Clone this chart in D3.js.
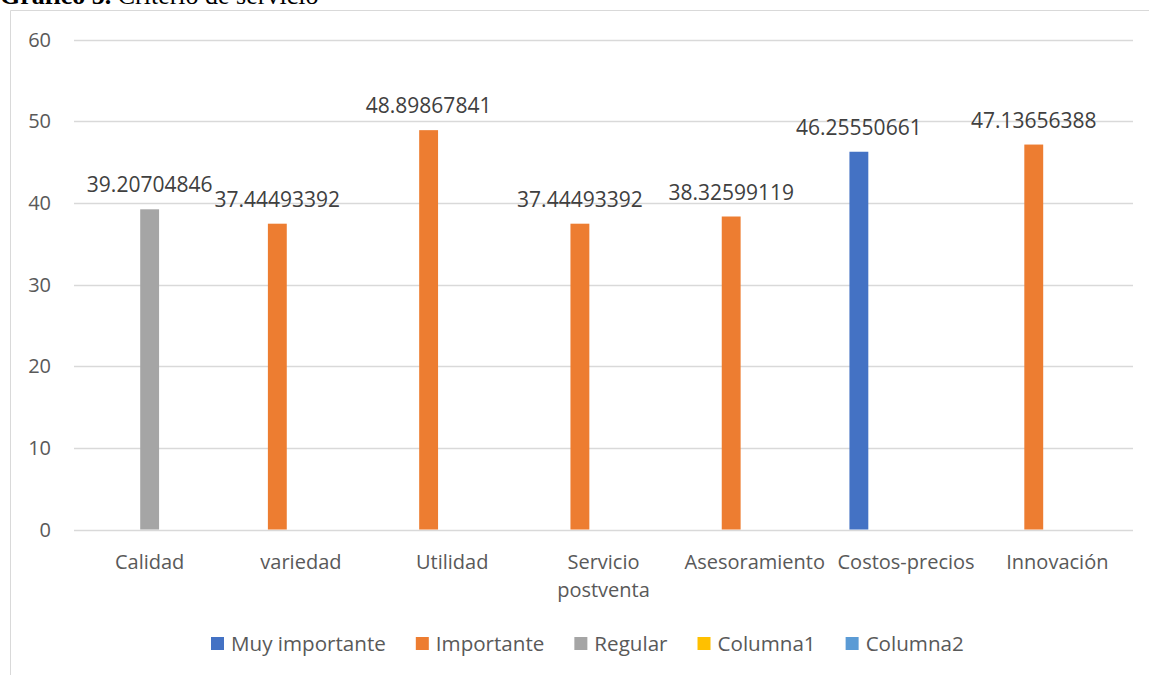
<!DOCTYPE html>
<html>
<head>
<meta charset="utf-8">
<script src="https://cdn.jsdelivr.net/npm/d3@7"></script>
<style>
  body { margin: 0; background: #fff; }
  svg { display: block; }
  .tick_label { font-family: "Open Sans", "Noto Sans", sans-serif; font-size: 20px; fill: #595959; }
  .data_label { font-family: "Open Sans", "Noto Sans", sans-serif; font-size: 21px; fill: #404040; }
  .legend_str { font-family: "Open Sans", "Noto Sans", sans-serif; font-size: 20.6px; fill: #595959; }
</style>
</head>
<body>
<svg id="chart" width="1149" height="675"></svg>
<script>
// chart data
var categories = ["Calidad", "variedad", "Utilidad", "Servicio postventa", "Asesoramiento", "Costos-precios", "Innovación"];
var seriesNames = ["Muy importante", "Importante", "Regular", "Columna1", "Columna2"];
var muyImportante = [null, null, null, null, null, 46.25550661, null];
var importante = [null, 37.44493392, 48.89867841, 37.44493392, 38.32599119, null, 47.13656388];
var regular = [39.20704846, null, null, null, null, null, null];
var columna1 = [null, null, null, null, null, null, null];
var columna2 = [null, null, null, null, null, null, null];
var yTicks = [0, 10, 20, 30, 40, 50, 60];

var seriesValues = [muyImportante, importante, regular, columna1, columna2];
var colors = ["#4472C4", "#ED7D31", "#A5A5A5", "#FFC000", "#5B9BD5"];

var svg = d3.select("#chart");

// title (cut at the top like the page scan)
var title = svg.append("text")
  .attr("x", 0)
  .attr("y", 4)
  .attr("font-family", "'Liberation Serif', 'Times New Roman', serif")
  .attr("font-size", "26px")
  .attr("fill", "#000");
title.append("tspan").attr("font-weight", "bold").text("Gráfico 5.");
title.append("tspan").text(" Criterio de servicio");

// chart frame
svg.append("path")
  .attr("d", "M10.5,675 L10.5,10.5 L1149,10.5")
  .attr("fill", "none")
  .attr("stroke", "#d9d9d9")
  .attr("stroke-width", 1);

var plotLeft = 74, plotRight = 1133, plotTop = 39.5, plotBottom = 529.5;

var x = d3.scaleBand().domain(categories).range([plotLeft, plotRight]).padding(0);
var slot = 23.6;
var x1 = d3.scaleBand().domain(seriesNames)
  .range([x.bandwidth() / 2 - 2.5 * slot, x.bandwidth() / 2 + 2.5 * slot])
  .paddingInner(0.2).paddingOuter(0.1);
var y = d3.scaleLinear().domain([0, 60]).range([plotBottom, plotTop]);

// gridlines
svg.append("g").selectAll("line").data(yTicks).enter().append("line")
  .attr("x1", plotLeft)
  .attr("x2", plotRight)
  .attr("y1", function(d) { return Math.round(y(d)) + 0.5; })
  .attr("y2", function(d) { return Math.round(y(d)) + 0.5; })
  .attr("stroke", "#d9d9d9")
  .attr("stroke-width", 1.3);

// y axis labels
svg.append("g").selectAll("text").data(yTicks).enter().append("text")
  .attr("class", "tick_label")
  .attr("x", 51)
  .attr("y", function(d) { return y(d) + 7; })
  .attr("text-anchor", "end")
  .text(function(d) { return d; });

// bars
var rows = [];
seriesValues.forEach(function(vals, s) {
  vals.forEach(function(v, c) {
    if (v !== null) rows.push({ cat: categories[c], series: seriesNames[s], value: v, color: colors[s] });
  });
});

svg.append("g").selectAll("rect").data(rows).enter().append("rect")
  .attr("x", function(d) { return x(d.cat) + x1(d.series); })
  .attr("y", function(d) { return y(d.value); })
  .attr("width", x1.bandwidth())
  .attr("height", function(d) { return y(0) - y(d.value); })
  .attr("fill", function(d) { return d.color; });

// data labels
svg.append("g").selectAll("text").data(rows).enter().append("text")
  .attr("class", "data_label")
  .attr("x", function(d) { return x(d.cat) + x1(d.series) + x1.bandwidth() / 2; })
  .attr("y", function(d) { return y(d.value) - 17; })
  .attr("text-anchor", "middle")
  .text(function(d) { return String(d.value); });

// category labels, wrapped to the band width
var catLabels = svg.append("g").selectAll("text").data(categories).enter().append("text")
  .attr("class", "tick_label")
  .attr("x", function(d) { return x(d) + x.bandwidth() / 2; })
  .attr("y", 569)
  .attr("text-anchor", "middle")
  .text(function(d) { return d; });

catLabels.each(function(d) {
  var el = d3.select(this);
  if (this.getComputedTextLength() <= x.bandwidth()) return;
  var words = d.split(" ");
  el.text(null);
  words.forEach(function(w, i) {
    el.append("tspan")
      .attr("x", x(d) + x.bandwidth() / 2)
      .attr("dy", i === 0 ? 0 : 28)
      .text(w);
  });
});

// legend
var legend = svg.append("g");
var lx = 211, sq = 13;
seriesNames.forEach(function(name, i) {
  legend.append("rect")
    .attr("x", lx)
    .attr("y", 637)
    .attr("width", sq)
    .attr("height", sq)
    .attr("fill", colors[i]);
  var t = legend.append("text")
    .attr("class", "legend_str")
    .attr("x", lx + sq + 7)
    .attr("y", 651)
    .text(name);
  lx = lx + sq + 7 + t.node().getComputedTextLength() + 30;
});
</script>
</body>
</html>
